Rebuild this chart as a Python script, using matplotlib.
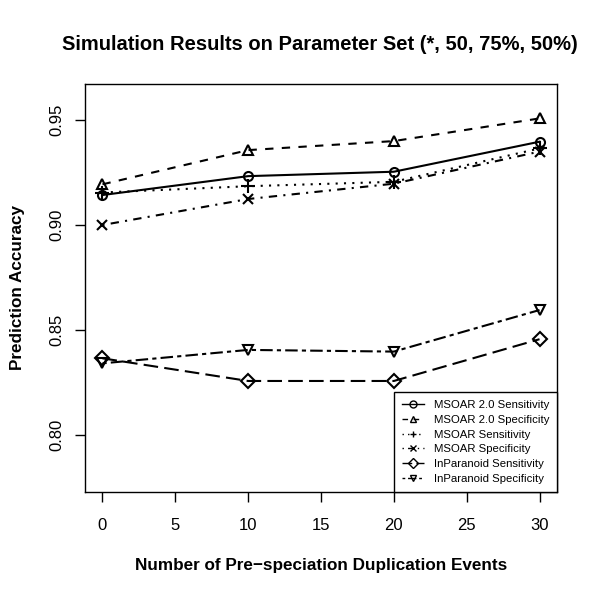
import matplotlib.pyplot as plt
from matplotlib.lines import Line2D

plt.rcParams['font.family'] = ['Liberation Sans', 'DejaVu Sans']

# number of pre-speciation duplication events
events = [0, 10, 20, 30]

msoar2_sens = [0.9143, 0.9233, 0.9254, 0.9397]
msoar2_spec = [0.9194, 0.9357, 0.9400, 0.9508]
msoar_sens = [0.9155, 0.9185, 0.9206, 0.9365]
msoar_spec = [0.9000, 0.9124, 0.9197, 0.9350]
inpar_sens = [0.8365, 0.8257, 0.8257, 0.8456]
inpar_spec = [0.8341, 0.8405, 0.8397, 0.8595]

labels = ['MSOAR 2.0 Sensitivity', 'MSOAR 2.0 Specificity', 'MSOAR Sensitivity',
          'MSOAR Specificity', 'InParanoid Sensitivity', 'InParanoid Specificity']
series = [msoar2_sens, msoar2_spec, msoar_sens, msoar_spec, inpar_sens, inpar_spec]
# R style lty 1..6 and pch 1..6
styles = ['-', (0, (4, 4)), (0, (1, 3)), (0, (1, 3, 4, 3)), (0, (7, 3)), (0, (2, 2, 6, 2))]
markers = ['o', '^', '+', 'x', 'D', 'v']
msizes = [6.5, 7.5, 10, 7.5, 7, 7.5]

fig = plt.figure(figsize=(6.0, 5.98), dpi=100)
ax = fig.add_axes([85/600, 1-492/598, 472/600, 408/598])

for y, ls, mk, ms in zip(series, styles, markers, msizes):
    ax.plot(events, y, color='black', lw=1.5, linestyle=ls, marker=mk,
            markersize=ms, markerfacecolor='none',
            markeredgecolor='black', markeredgewidth=1.5)

ax.set_xlim(-1.2, 31.2)
ax.set_ylim(0.7728, 0.9672)
ax.set_xticks([0, 5, 10, 15, 20, 25, 30])
ax.set_yticks([0.80, 0.85, 0.90, 0.95])
ax.set_yticklabels(['0.80', '0.85', '0.90', '0.95'], rotation=90, va='center')
ax.tick_params(direction='out', length=7.5, width=1, labelsize=12, colors='black')
ax.tick_params(axis='x', pad=11)
ax.tick_params(axis='y', pad=7)
for s in ax.spines.values():
    s.set_linewidth(1)
ax.set_xlabel('Number of Pre\u2212speciation Duplication Events', fontsize=12.3,
              fontweight='bold', labelpad=18)
ax.set_ylabel('Prediction Accuracy', fontsize=12.3, fontweight='bold', labelpad=18)
fig.suptitle('Simulation Results on Parameter Set (*, 50, 75%, 50%)', fontsize=14.5,
             fontweight='bold', x=320/600, y=1-44/598, va='center')

handles = [Line2D([], [], color='black', lw=1, linestyle=ls, marker=mk, markersize=5,
                  markerfacecolor='none', markeredgewidth=1)
           for ls, mk in zip(styles, markers)]
leg = ax.legend(handles, labels, loc='lower right', bbox_to_anchor=(1, 0),
                borderaxespad=0, fontsize=8.2, handlelength=2.0, handletextpad=0.8,
                labelspacing=0.42, fancybox=False, edgecolor='black', framealpha=1,
                borderpad=0.7)
leg.get_frame().set_linewidth(1)

fig.savefig('out.png', dpi=100)
